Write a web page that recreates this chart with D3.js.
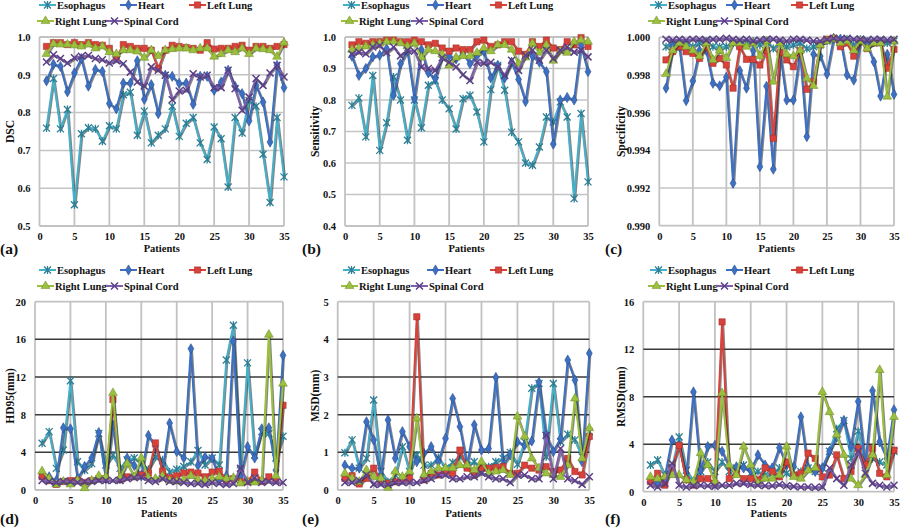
<!DOCTYPE html>
<html><head><meta charset="utf-8">
<script src="https://cdn.jsdelivr.net/npm/d3@7"></script>
<style>body{margin:0;background:#fff}</style>
</head><body><svg id="c" width="900" height="529"></svg>
<script>
const patients = [1,2,3,4,5,6,7,8,9,10,11,12,13,14,15,16,17,18,19,20,21,22,23,24,25,26,27,28,29,30,31,32,33,34,35];
const seriesNames = ["Esophagus","Heart","Left Lung","Right Lung","Spinal Cord"];
const xTicks = [0,5,10,15,20,25,30,35];

// (a) DSC
const dscEsophagus = [0.759,0.89,0.757,0.808,0.556,0.744,0.76,0.757,0.724,0.765,0.757,0.847,0.854,0.74,0.804,0.72,0.74,0.757,0.817,0.737,0.772,0.787,0.72,0.676,0.762,0.731,0.603,0.787,0.746,0.832,0.817,0.69,0.562,0.787,0.63];
const dscHeart = [0.884,0.928,0.922,0.855,0.905,0.943,0.87,0.914,0.909,0.824,0.81,0.878,0.878,0.937,0.835,0.874,0.797,0.899,0.896,0.877,0.878,0.822,0.896,0.896,0.859,0.881,0.912,0.869,0.85,0.778,0.872,0.828,0.722,0.925,0.866];
const dscLeftLung = [0.975,0.985,0.985,0.98,0.985,0.98,0.985,0.98,0.978,0.97,0.945,0.98,0.975,0.97,0.97,0.965,0.916,0.965,0.978,0.975,0.972,0.97,0.965,0.985,0.968,0.97,0.97,0.975,0.978,0.965,0.975,0.975,0.97,0.975,0.98];
const dscRightLung = [0.955,0.982,0.98,0.98,0.978,0.975,0.98,0.97,0.975,0.96,0.955,0.965,0.965,0.962,0.945,0.965,0.95,0.965,0.968,0.97,0.97,0.965,0.97,0.97,0.948,0.955,0.965,0.96,0.97,0.955,0.97,0.968,0.965,0.948,0.985];
const dscSpinalCord = [0.934,0.953,0.943,0.931,0.945,0.949,0.951,0.943,0.94,0.931,0.937,0.929,0.907,0.881,0.87,0.921,0.912,0.899,0.834,0.857,0.859,0.903,0.894,0.899,0.866,0.866,0.912,0.863,0.806,0.841,0.89,0.872,0.905,0.925,0.894];
const dscTicks = [0.5,0.6,0.7,0.8,0.9,1.0];

// (b) Sensitivity
const senEsophagus = [0.783,0.806,0.683,0.878,0.64,0.728,0.873,0.80,0.672,0.80,0.712,0.847,0.862,0.80,0.772,0.708,0.804,0.815,0.762,0.667,0.833,0.91,0.831,0.698,0.667,0.60,0.593,0.651,0.746,0.73,0.794,0.746,0.487,0.757,0.54];
const senHeart = [0.939,0.878,0.90,0.937,0.942,0.963,0.815,0.915,0.956,0.804,0.96,0.886,0.868,0.937,0.94,0.93,0.948,0.915,0.94,0.955,0.87,0.91,0.87,0.92,0.865,0.795,0.94,0.92,0.89,0.66,0.80,0.808,0.80,0.975,0.89];
const senLeftLung = [0.975,0.985,0.98,0.985,0.985,0.99,0.99,0.985,0.985,0.99,0.985,0.975,0.98,0.965,0.955,0.965,0.96,0.96,0.985,0.99,0.97,0.975,0.985,0.985,0.955,0.945,0.985,0.97,0.99,0.965,0.96,0.985,0.975,0.998,0.97];
const senRightLung = [0.96,0.965,0.97,0.975,0.98,0.985,0.985,0.98,0.97,0.98,0.935,0.96,0.955,0.945,0.91,0.935,0.94,0.94,0.95,0.965,0.955,0.975,0.975,0.96,0.915,0.935,0.98,0.95,0.975,0.925,0.955,0.95,0.985,0.99,0.985];
const senSpinalCord = [0.945,0.952,0.947,0.968,0.973,0.95,0.968,0.94,0.958,0.955,0.905,0.90,0.894,0.934,0.92,0.905,0.88,0.862,0.92,0.917,0.92,0.905,0.878,0.926,0.894,0.942,0.958,0.926,0.958,0.931,0.958,0.968,0.952,0.958,0.937];
const senTicks = [0.4,0.5,0.6,0.7,0.8,0.9,1.0];

// (c) Specificity
const speEsophagus = [0.9995,0.9997,0.9996,0.9997,0.9995,0.9997,0.9998,0.9995,0.9995,0.9995,0.9997,0.9996,0.9997,0.9998,0.9996,0.9998,0.9994,0.9997,0.9995,0.9996,0.9997,0.9994,0.9995,0.9996,0.9998,0.9999,0.9998,0.9999,0.9996,0.9999,0.9998,0.9997,0.9998,0.9997,0.9998];
const speHeart = [0.9973,0.9995,0.9995,0.99664,0.99768,0.9993,0.9993,0.99756,0.99742,0.99788,0.99225,0.99823,0.9973,0.9993,0.99313,0.9974,0.9930,0.9992,0.99667,0.99667,0.9992,0.99473,0.9991,0.999,0.99805,0.99995,0.9999,0.998,0.99773,0.9998,0.9996,0.9987,0.99688,0.9991,0.99697];
const speLeftLung = [0.9988,0.99924,0.9995,0.99924,0.99915,0.99888,0.9995,0.99862,0.99888,0.99853,0.9973,0.9995,0.99883,0.99883,0.99853,0.9993,0.99464,0.9992,0.9988,0.99844,0.9993,0.99724,0.99764,0.9996,0.9999,0.99995,0.9995,0.9997,0.999,0.9998,0.9994,0.9997,0.9997,0.99836,0.99936];
const speRightLung = [0.99805,0.9993,0.9997,0.9995,0.9993,0.999,0.9997,0.9988,0.9993,0.9989,0.9997,0.9997,0.9995,0.9997,0.999,0.9998,0.99765,0.9997,0.9991,0.999,0.9993,0.99782,0.99742,0.9996,0.9998,0.9999,0.9997,0.9998,0.9993,0.9998,0.9994,0.9997,0.9997,0.99685,0.9998];
const speSpinalCord = [0.9999,0.99985,0.9999,0.99985,0.9999,0.9999,0.99985,0.9999,0.9999,0.99995,0.9999,0.99985,0.9999,0.9998,0.99985,0.9999,0.9999,0.99985,0.9998,0.9999,0.9999,0.99985,0.9998,0.9998,0.9999,0.99995,0.9999,0.99995,0.9999,0.9999,0.99985,0.9999,0.9999,0.99985,0.9999];
const speTicks = [0.990,0.992,0.994,0.996,0.998,1.000];

// (d) HD95
const hdEsophagus = [4.96,6.2,2.3,4.25,11.6,3.0,2.1,2.8,6.0,2.65,3.7,2.3,3.2,3.4,2.8,2.2,3.5,3.2,1.9,2.2,2.5,3.0,4.2,2.65,3.4,2.65,13.8,17.5,2.1,13.5,3.7,6.2,6.0,3.4,5.7];
const hdHeart = [1.6,1.4,1.0,6.6,6.5,1.2,2.5,3.4,6.1,1.2,6.9,1.2,3.4,2.6,1.5,5.8,4.6,2.0,7.1,4.1,3.4,15.0,2.6,3.5,3.4,1.2,1.5,15.8,1.4,4.6,3.4,6.5,6.6,2.1,14.3];
const hdLeftLung = [1.4,1.0,0.6,0.9,1.0,1.0,0.8,1.0,1.2,1.2,9.6,1.1,1.4,1.4,1.6,1.8,5.0,2.0,1.3,1.5,1.8,1.9,1.8,1.4,1.9,2.0,1.1,1.2,0.9,0.9,1.9,0.9,1.4,1.0,9.0];
const hdRightLung = [2.0,1.2,0.6,0.9,0.6,1.0,0.2,1.0,1.5,1.4,10.3,1.3,2.8,1.4,3.4,1.3,1.2,1.5,1.0,0.9,1.1,1.5,1.1,1.0,1.2,1.4,1.2,1.3,0.7,0.9,0.8,1.0,16.5,1.5,11.3];
const hdSpinalCord = [1.0,0.9,0.8,0.9,0.9,0.8,0.9,0.9,1.0,1.0,1.0,1.0,1.2,1.3,1.4,1.0,0.9,1.2,0.9,0.9,0.8,0.7,0.7,0.6,0.8,0.7,0.6,0.7,2.3,0.8,1.3,0.8,0.9,0.8,0.8];
const hdTicks = [0,4,8,12,16,20];

// (e) MSD
const msdEsophagus = [0.99,1.33,0.58,0.84,2.39,0.49,0.22,0.4,1.15,0.49,0.93,0.66,0.66,0.86,0.58,0.73,0.9,0.66,0.75,0.5,0.62,0.75,0.84,1.0,0.68,1.28,2.7,2.83,0.88,2.83,1.28,1.48,1.33,0.88,1.55];
const msdHeart = [0.66,0.58,0.58,1.81,1.33,0.31,1.86,0.84,1.55,1.15,0.75,0.97,1.15,0.75,1.37,2.43,1.68,0.66,1.73,1.06,1.1,2.99,0.66,0.93,1.28,1.19,1.3,2.86,1.46,1.02,1.37,3.45,2.92,0.75,3.63];
const msdLeftLung = [0.31,0.38,0.16,0.31,0.58,0.22,0.18,0.22,0.24,0.31,4.6,0.27,0.44,0.4,0.49,0.44,1.06,0.58,0.4,0.58,0.58,0.6,0.62,0.44,0.44,0.66,0.58,0.53,0.62,0.49,0.53,0.84,0.49,0.4,1.42];
const msdRightLung = [0.44,0.31,0.22,0.53,0.35,0.31,0.06,0.49,0.35,0.49,1.9,0.4,0.49,0.58,0.58,0.58,0.66,0.66,0.53,0.75,0.44,0.49,0.53,0.4,1.95,1.42,0.84,0.58,0.44,0.4,0.35,0.66,2.43,0.84,1.64];
const msdSpinalCord = [0.2,0.2,0.25,0.4,0.15,0.15,0.15,0.2,0.2,0.2,0.2,0.25,0.3,0.4,0.4,0.3,0.3,0.35,0.35,0.45,0.35,0.3,0.3,0.2,0.4,0.4,0.3,0.3,1.45,0.3,1.1,0.3,0.25,0.15,0.35];
const msdTicks = [0,1,2,3,4,5];

// (f) RMSD
const rmsdEsophagus = [2.25,2.67,1.4,2.0,4.6,1.8,0.85,1.7,2.5,1.7,2.5,1.7,2.0,2.25,1.55,1.7,1.4,1.55,2.0,1.55,1.4,1.7,2.0,1.7,2.0,3.4,5.3,6.0,2.8,5.1,2.25,2.8,2.5,2.25,3.4];
const rmsdHeart = [1.1,0.7,1.25,4.35,3.9,1.1,8.4,1.8,3.8,3.9,3.4,2.1,2.1,2.0,1.8,3.1,2.25,2.0,3.7,2.25,2.1,6.3,2.0,1.7,2.0,3.4,4.6,6.0,3.8,7.6,2.25,8.5,4.2,2.8,6.9];
const rmsdLeftLung = [0.85,1.55,0.55,2.0,3.9,1.0,0.55,1.1,1.1,0.7,14.3,1.1,1.55,1.1,1.1,1.0,2.0,1.7,1.25,2.5,1.4,1.55,3.25,2.8,1.25,1.4,3.1,1.1,1.7,3.65,2.25,3.65,1.55,1.25,3.5];
const rmsdRightLung = [1.25,1.1,1.25,1.4,1.4,1.0,0.85,3.25,2.25,0.85,8.3,2.25,1.4,3.8,2.25,0.7,1.1,1.1,1.4,3.8,1.25,1.1,1.8,2.0,8.4,6.7,4.8,3.1,1.1,0.55,1.4,3.1,10.25,1.4,6.3];
const rmsdSpinalCord = [0.55,0.4,0.7,2.4,0.55,0.4,0.5,0.55,0.5,0.45,0.55,0.55,0.7,0.7,0.6,0.55,0.5,0.5,0.6,0.5,0.45,0.4,0.4,0.35,0.4,2.0,1.1,0.55,2.25,3.4,1.55,0.7,0.55,0.4,0.55];
const rmsdTicks = [0,4,8,12,16];

const colors = ["#45b0ca","#3d70c2","#d8423b","#9bbf3e","#7e5fae"];
const markerStroke = ["#2c7f95","#2a4f8f","#9e2a25","#6c8a25","#5a3f86"];
const FONT = '"Liberation Serif","Times New Roman","DejaVu Serif",serif';

const panels = [
  {tag:"(a)", title:"DSC", series:[dscEsophagus,dscHeart,dscLeftLung,dscRightLung,dscSpinalCord], ticks:dscTicks, fmt:d3.format(".1f"),
   x0:39.5, x1:284, yt:37, yb:226, oy:0, lx:39, dH:81, dL:150, dS:67, labX:10, tagX:0, hGrid:"#c4c4c4"},
  {tag:"(b)", title:"Sensitivity", series:[senEsophagus,senHeart,senLeftLung,senRightLung,senSpinalCord], ticks:senTicks, fmt:d3.format(".1f"),
   x0:345, x1:588, yt:37, yb:226, oy:0, lx:343, dH:84, dL:147, dS:68, labX:315, tagX:302, hGrid:"#c4c4c4"},
  {tag:"(c)", title:"Specificity", series:[speEsophagus,speHeart,speLeftLung,speRightLung,speSpinalCord], ticks:speTicks, fmt:d3.format(".3f"),
   x0:659.3, x1:894, yt:37.3, yb:225.7, oy:0, lx:650, dH:76, dL:141, dS:66, labX:621, tagX:605, hGrid:"#c4c4c4"},
  {tag:"(d)", title:"HD95(mm)", series:[hdEsophagus,hdHeart,hdLeftLung,hdRightLung,hdSpinalCord], ticks:hdTicks, fmt:d3.format("d"),
   x0:35, x1:283, yt:301.7, yb:490, oy:265, lx:39, dH:81, dL:150, dS:67, labX:10, tagX:0, hGrid:"#3a3a3a"},
  {tag:"(e)", title:"MSD(mm)", series:[msdEsophagus,msdHeart,msdLeftLung,msdRightLung,msdSpinalCord], ticks:msdTicks, fmt:d3.format("d"),
   x0:337.7, x1:589.3, yt:301.7, yb:490, oy:265, lx:343, dH:84, dL:147, dS:68, labX:315, tagX:302, hGrid:"#3a3a3a"},
  {tag:"(f)", title:"RMSD(mm)", series:[rmsdEsophagus,rmsdHeart,rmsdLeftLung,rmsdRightLung,rmsdSpinalCord], ticks:rmsdTicks, fmt:d3.format("d"),
   x0:643.3, x1:894, yt:301.7, yb:491.7, oy:265, lx:650, dH:76, dL:141, dS:66, labX:621, tagX:605, hGrid:"#3a3a3a"}
];

const svg = d3.select("#c");

function txt(sel, size) {
  return sel.attr("font-family", FONT).attr("font-weight", "bold").attr("font-size", size).attr("fill", "#111");
}

function drawMarker(g, k, cx, cy) {
  if (k === 0) {
    g.append("path").attr("d", `M${cx-3.5},${cy-3.5}L${cx+3.5},${cy+3.5}M${cx-3.5},${cy+3.5}L${cx+3.5},${cy-3.5}M${cx},${cy-4}L${cx},${cy+4}`)
      .attr("stroke", markerStroke[0]).attr("stroke-width", 1.3).attr("fill", "none");
  } else if (k === 1) {
    g.append("path").attr("d", d3.symbol(d3.symbolDiamond, 30)()).attr("transform", `translate(${cx},${cy})`)
      .attr("fill", colors[1]).attr("stroke", markerStroke[1]).attr("stroke-width", 0.6);
  } else if (k === 2) {
    g.append("path").attr("d", d3.symbol(d3.symbolSquare, 40)()).attr("transform", `translate(${cx},${cy})`)
      .attr("fill", colors[2]).attr("stroke", markerStroke[2]).attr("stroke-width", 0.5);
  } else if (k === 3) {
    g.append("path").attr("d", d3.symbol(d3.symbolTriangle, 34)()).attr("transform", `translate(${cx},${cy})`)
      .attr("fill", colors[3]).attr("stroke", markerStroke[3]).attr("stroke-width", 0.5);
  } else {
    g.append("path").attr("d", `M${cx-3.5},${cy-3.5}L${cx+3.5},${cy+3.5}M${cx-3.5},${cy+3.5}L${cx+3.5},${cy-3.5}`)
      .attr("stroke", markerStroke[4]).attr("stroke-width", 1.5).attr("fill", "none");
  }
}

panels.forEach(p => {
  const g = svg.append("g");
  const x = d3.scaleLinear().domain([0, 35]).range([p.x0, p.x1]);
  const y = d3.scaleLinear().domain([p.ticks[0], p.ticks[p.ticks.length - 1]]).range([p.yb, p.yt]);

  xTicks.forEach(t => {
    g.append("line").attr("x1", x(t)).attr("x2", x(t)).attr("y1", p.yt).attr("y2", p.yb)
      .attr("stroke", "#c2c2c2").attr("stroke-width", 1.8);
  });
  p.ticks.forEach((t, i) => {
    const edge = (i === 0 || i === p.ticks.length - 1);
    g.append("line").attr("x1", p.x0).attr("x2", p.x1).attr("y1", y(t)).attr("y2", y(t))
      .attr("stroke", edge ? "#c2c2c2" : p.hGrid).attr("stroke-width", edge ? 1.8 : 1.5);
  });

  const xa = g.append("g").attr("transform", `translate(0,${p.yb})`)
    .call(d3.axisBottom(x).tickValues(xTicks).tickSize(0).tickPadding(7).tickFormat(d3.format("d")));
  xa.select(".domain").remove();
  txt(xa.selectAll("text"), 10.5);
  const ya = g.append("g").attr("transform", `translate(${p.x0},0)`)
    .call(d3.axisLeft(y).tickValues(p.ticks).tickSize(0).tickPadding(9).tickFormat(p.fmt));
  ya.select(".domain").remove();
  txt(ya.selectAll("text"), 10.5);

  txt(g.append("text"), 10.5).attr("x", (p.x0 + p.x1) / 2).attr("y", p.oy + 252).attr("text-anchor", "middle").text("Patients");
  txt(g.append("text"), 11.5).attr("transform", `translate(${p.labX + 4},${(p.yt + p.yb) / 2}) rotate(-90)`)
    .attr("text-anchor", "middle").text(p.title);
  txt(g.append("text"), 15.5).attr("x", p.tagX).attr("y", p.oy + (p.oy ? 259 : 254)).text(p.tag);

  const line = d3.line().x((d, i) => x(patients[i])).y(d => y(d));
  p.series.forEach((vals, k) => {
    g.append("path").datum(vals).attr("d", line).attr("fill", "none")
      .attr("stroke", "#222").attr("stroke-opacity", 0.55).attr("stroke-width", 2.6)
      .attr("transform", "translate(0.8,0.8)").attr("stroke-linejoin", "round");
    g.append("path").datum(vals).attr("d", line).attr("fill", "none")
      .attr("stroke", colors[k]).attr("stroke-width", 2).attr("stroke-linejoin", "round");
    vals.forEach((v, i) => drawMarker(g, k, x(patients[i]), y(v)));
  });

  const legPos = [[p.lx, 5], [p.lx + p.dH, 5], [p.lx + p.dL, 5], [p.lx - 2, 21], [p.lx + p.dS, 21]];
  seriesNames.forEach((name, k) => {
    const lx = legPos[k][0], ly = p.oy + legPos[k][1];
    g.append("line").attr("x1", lx).attr("x2", lx + 17).attr("y1", ly).attr("y2", ly)
      .attr("stroke", colors[k]).attr("stroke-width", 2);
    drawMarker(g, k, lx + 8.5, ly);
    txt(g.append("text"), 10.5).attr("x", lx + 18).attr("y", ly + 4).text(name);
  });
});
</script></body></html>
